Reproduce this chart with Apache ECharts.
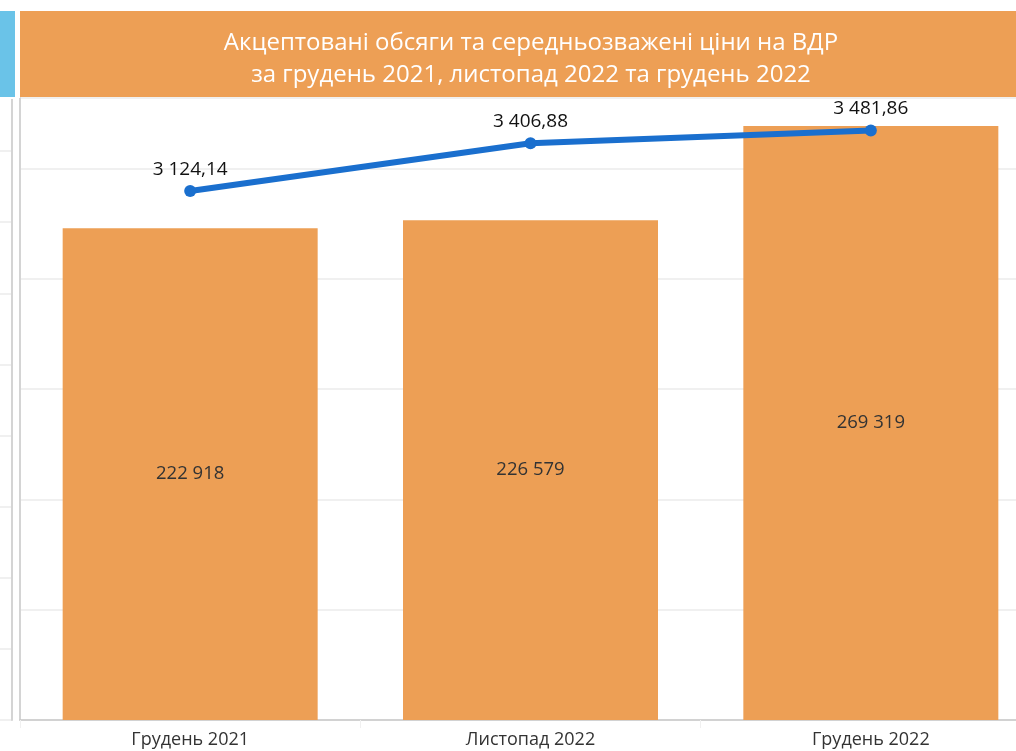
<!DOCTYPE html>
<html>
<head>
<meta charset="utf-8">
<script src="https://cdn.jsdelivr.net/npm/echarts@6/dist/echarts.min.js"></script>
<style>
    html, body { margin: 0; padding: 0; background: #fff; }
    #chart { width: 1016px; height: 751px; }
</style>
</head>
<body>
<div id="chart"></div>
<script>
// дані
var categories = ['Грудень 2021', 'Листопад 2022', 'Грудень 2022'];
var volumes = [222918, 226579, 269319];
var prices = [3124.14, 3406.88, 3481.86];
var leftPanel = [0];

var orange = '#ed9f55';
var blue = '#1a6fce';
var fontFamily = "'Open Sans', 'Noto Sans', sans-serif";

function spaced(n, dec) {
    var s = n.toFixed(dec).split('.');
    var i = s[0].replace(/\B(?=(\d{3})+(?!\d))/g, ' ');
    return dec ? i + ',' + s[1] : i;
}

var chart = echarts.init(document.getElementById('chart'));
chart.setOption({
    animation: false,
    textStyle: { fontFamily: fontFamily },
    graphic: [
        { type: 'rect', z: 100, shape: { x: 0, y: 11, width: 15, height: 86 }, style: { fill: '#6ac3e8' } },
        { type: 'rect', z: 100, shape: { x: 15, y: 11, width: 5, height: 87 }, style: { fill: '#fff' } },
        { type: 'rect', z: 100, shape: { x: 0, y: 97, width: 15, height: 2 }, style: { fill: '#fff' } },
        { type: 'rect', z: 100, shape: { x: 20, y: 11, width: 1000, height: 86 }, style: { fill: orange } },
        { type: 'text', z: 101, x: 531, y: 43, style: {
            text: 'Акцептовані обсяги та середньозважені ціни на ВДР',
            fill: '#fff', font: "24px 'Open Sans'", align: 'center', verticalAlign: 'middle' } },
        { type: 'text', z: 101, x: 531, y: 75, style: {
            text: 'за грудень 2021, листопад 2022 та грудень 2022',
            fill: '#fff', font: "24px 'Open Sans'", align: 'center', verticalAlign: 'middle' } }
    ],
    grid: [
        { left: 20, width: 1021, top: 98, bottom: 31, containLabel: false, outerBoundsMode: 'none' },
        { left: -10, width: 22, top: 97, bottom: 31, containLabel: false, outerBoundsMode: 'none' }
    ],
    xAxis: [
        {
            type: 'category', gridIndex: 0, data: categories,
            axisLine: { lineStyle: { color: '#c8c8c8', width: 1.5 } },
            axisTick: { show: true, length: 8, lineStyle: { color: '#f0f0f0' } },
            axisLabel: { color: '#333', fontSize: 18, margin: 11, fontFamily: fontFamily }
        },
        {
            type: 'category', gridIndex: 1, data: ['x'],
            axisLine: { show: false }, axisTick: { show: false }, axisLabel: { show: false }
        }
    ],
    yAxis: [
        {
            type: 'value', gridIndex: 0, min: 0, max: 282000, interval: 50000,
            axisLine: { show: true, lineStyle: { color: '#d4d4d4', width: 2 } },
            axisTick: { show: false }, axisLabel: { show: false },
            splitLine: { lineStyle: { color: '#f0f0f0', width: 2 } }
        },
        {
            type: 'value', gridIndex: 0, min: 0, max: 3674,
            axisLine: { show: false }, axisTick: { show: false }, axisLabel: { show: false },
            splitLine: { show: false }
        },
        {
            type: 'value', gridIndex: 1, min: 0, max: 8.76, interval: 1,
            position: 'right',
            axisLine: { show: true, lineStyle: { color: '#d4d4d4', width: 2 } },
            axisTick: { show: false }, axisLabel: { show: false },
            splitLine: { lineStyle: { color: '#f0f0f0', width: 2 } }
        }
    ],
    series: [
        {
            type: 'bar', xAxisIndex: 0, yAxisIndex: 0,
            data: volumes, barWidth: 255,
            itemStyle: { color: orange },
            label: {
                show: true, position: 'inside', color: '#333', fontSize: 18.5,
                fontFamily: fontFamily,
                formatter: function (p) { return spaced(p.value, 0); }
            }
        },
        {
            type: 'line', xAxisIndex: 0, yAxisIndex: 1,
            data: prices, symbol: 'circle', symbolSize: 12,
            lineStyle: { color: blue, width: 6 },
            itemStyle: { color: blue },
            label: {
                show: true, position: 'top', distance: 6, color: '#111', fontSize: 19,
                fontFamily: fontFamily,
                formatter: function (p) { return spaced(p.value, 2); }
            },
            z: 5
        },
        {
            type: 'bar', xAxisIndex: 1, yAxisIndex: 2, data: leftPanel,
            silent: true
        }
    ]
});
</script>
</body>
</html>
